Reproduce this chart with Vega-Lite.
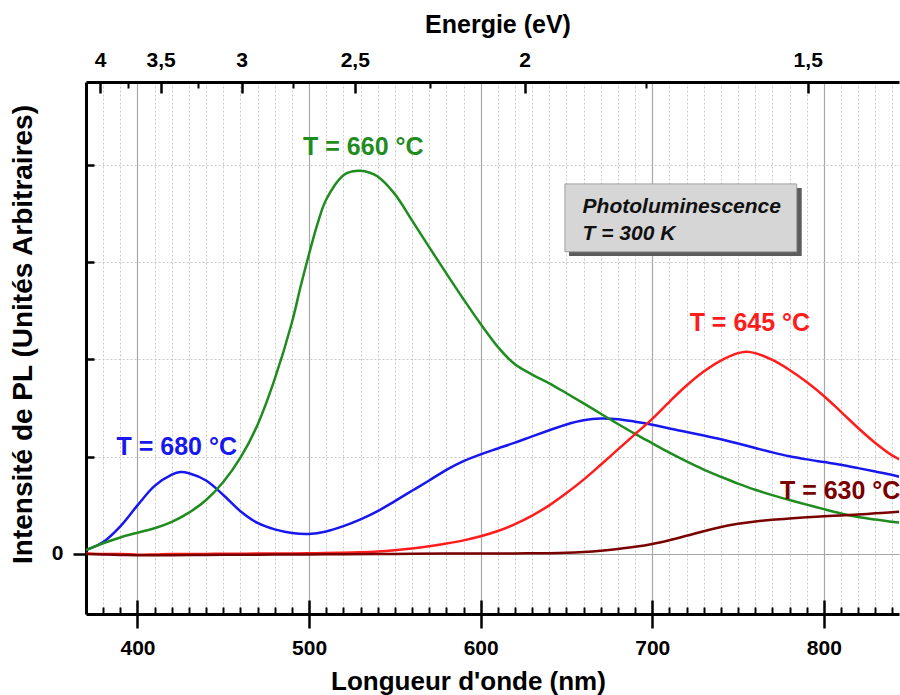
{
  "$schema": "https://vega.github.io/schema/vega-lite/v6.json",
  "width": 813,
  "height": 532,
  "autosize": {"type": "none"},
  "padding": {"left": 86, "top": 82, "right": 1, "bottom": 81},
  "background": "white",
  "config": {
    "view": {"stroke": null},
    "font": "Liberation Sans",
    "axis": {
      "labelFont": "Liberation Sans", "labelFontWeight": "bold", "labelFontSize": 21, "labelColor": "black",
      "titleFont": "Liberation Sans", "titleFontWeight": "bold", "titleFontSize": 25, "titleColor": "black",
      "tickColor": "black", "domainColor": "black", "labelFlush": false, "labelOverlap": false, "grid": false
    }
  },
  "datasets": {
    "pl": [
      {"lambda": 370, "I": 0.041, "serie": "680"}, {"lambda": 380, "I": 0.123, "serie": "680"}, {"lambda": 390, "I": 0.285, "serie": "680"},
      {"lambda": 400, "I": 0.5, "serie": "680"}, {"lambda": 410, "I": 0.7, "serie": "680"}, {"lambda": 420, "I": 0.815, "serie": "680"},
      {"lambda": 425, "I": 0.843, "serie": "680"}, {"lambda": 430, "I": 0.831, "serie": "680"}, {"lambda": 440, "I": 0.756, "serie": "680"},
      {"lambda": 450, "I": 0.607, "serie": "680"}, {"lambda": 460, "I": 0.44, "serie": "680"}, {"lambda": 470, "I": 0.319, "serie": "680"},
      {"lambda": 480, "I": 0.253, "serie": "680"}, {"lambda": 490, "I": 0.216, "serie": "680"}, {"lambda": 500, "I": 0.206, "serie": "680"},
      {"lambda": 510, "I": 0.232, "serie": "680"}, {"lambda": 520, "I": 0.286, "serie": "680"}, {"lambda": 530, "I": 0.356, "serie": "680"},
      {"lambda": 540, "I": 0.441, "serie": "680"}, {"lambda": 550, "I": 0.544, "serie": "680"}, {"lambda": 560, "I": 0.65, "serie": "680"},
      {"lambda": 570, "I": 0.756, "serie": "680"}, {"lambda": 580, "I": 0.865, "serie": "680"}, {"lambda": 590, "I": 0.955, "serie": "680"},
      {"lambda": 600, "I": 1.025, "serie": "680"}, {"lambda": 610, "I": 1.085, "serie": "680"}, {"lambda": 620, "I": 1.145, "serie": "680"},
      {"lambda": 630, "I": 1.21, "serie": "680"}, {"lambda": 640, "I": 1.272, "serie": "680"}, {"lambda": 650, "I": 1.332, "serie": "680"},
      {"lambda": 660, "I": 1.375, "serie": "680"}, {"lambda": 670, "I": 1.393, "serie": "680"}, {"lambda": 680, "I": 1.386, "serie": "680"},
      {"lambda": 690, "I": 1.36, "serie": "680"}, {"lambda": 700, "I": 1.329, "serie": "680"}, {"lambda": 710, "I": 1.29, "serie": "680"},
      {"lambda": 720, "I": 1.255, "serie": "680"}, {"lambda": 730, "I": 1.218, "serie": "680"}, {"lambda": 740, "I": 1.179, "serie": "680"},
      {"lambda": 750, "I": 1.136, "serie": "680"}, {"lambda": 760, "I": 1.09, "serie": "680"}, {"lambda": 770, "I": 1.045, "serie": "680"},
      {"lambda": 780, "I": 1.005, "serie": "680"}, {"lambda": 790, "I": 0.973, "serie": "680"}, {"lambda": 800, "I": 0.945, "serie": "680"},
      {"lambda": 810, "I": 0.917, "serie": "680"}, {"lambda": 820, "I": 0.883, "serie": "680"}, {"lambda": 830, "I": 0.848, "serie": "680"},
      {"lambda": 840, "I": 0.812, "serie": "680"}, {"lambda": 845, "I": 0.79, "serie": "680"},

      {"lambda": 370, "I": 0.041, "serie": "660"}, {"lambda": 380, "I": 0.11, "serie": "660"}, {"lambda": 390, "I": 0.17, "serie": "660"},
      {"lambda": 400, "I": 0.219, "serie": "660"}, {"lambda": 410, "I": 0.264, "serie": "660"}, {"lambda": 420, "I": 0.33, "serie": "660"},
      {"lambda": 430, "I": 0.425, "serie": "660"}, {"lambda": 440, "I": 0.555, "serie": "660"}, {"lambda": 450, "I": 0.74, "serie": "660"},
      {"lambda": 460, "I": 0.99, "serie": "660"}, {"lambda": 470, "I": 1.33, "serie": "660"}, {"lambda": 480, "I": 1.8, "serie": "660"},
      {"lambda": 490, "I": 2.38, "serie": "660"}, {"lambda": 495, "I": 2.745, "serie": "660"}, {"lambda": 500, "I": 3.085, "serie": "660"},
      {"lambda": 505, "I": 3.4, "serie": "660"}, {"lambda": 510, "I": 3.645, "serie": "660"}, {"lambda": 520, "I": 3.895, "serie": "660"},
      {"lambda": 525, "I": 3.933, "serie": "660"}, {"lambda": 530, "I": 3.941, "serie": "660"}, {"lambda": 535, "I": 3.923, "serie": "660"},
      {"lambda": 540, "I": 3.881, "serie": "660"}, {"lambda": 550, "I": 3.7, "serie": "660"}, {"lambda": 560, "I": 3.43, "serie": "660"},
      {"lambda": 570, "I": 3.155, "serie": "660"}, {"lambda": 580, "I": 2.885, "serie": "660"}, {"lambda": 590, "I": 2.62, "serie": "660"},
      {"lambda": 600, "I": 2.365, "serie": "660"}, {"lambda": 610, "I": 2.13, "serie": "660"}, {"lambda": 620, "I": 1.95, "serie": "660"},
      {"lambda": 630, "I": 1.845, "serie": "660"}, {"lambda": 640, "I": 1.755, "serie": "660"}, {"lambda": 650, "I": 1.653, "serie": "660"},
      {"lambda": 660, "I": 1.549, "serie": "660"}, {"lambda": 670, "I": 1.442, "serie": "660"}, {"lambda": 680, "I": 1.337, "serie": "660"},
      {"lambda": 690, "I": 1.235, "serie": "660"}, {"lambda": 700, "I": 1.138, "serie": "660"}, {"lambda": 710, "I": 1.042, "serie": "660"},
      {"lambda": 720, "I": 0.952, "serie": "660"}, {"lambda": 730, "I": 0.868, "serie": "660"}, {"lambda": 740, "I": 0.794, "serie": "660"},
      {"lambda": 750, "I": 0.724, "serie": "660"}, {"lambda": 760, "I": 0.66, "serie": "660"}, {"lambda": 770, "I": 0.605, "serie": "660"},
      {"lambda": 780, "I": 0.555, "serie": "660"}, {"lambda": 790, "I": 0.508, "serie": "660"}, {"lambda": 800, "I": 0.461, "serie": "660"},
      {"lambda": 810, "I": 0.417, "serie": "660"}, {"lambda": 820, "I": 0.381, "serie": "660"}, {"lambda": 830, "I": 0.354, "serie": "660"},
      {"lambda": 840, "I": 0.331, "serie": "660"}, {"lambda": 845, "I": 0.32, "serie": "660"},

      {"lambda": 370, "I": 0.005, "serie": "645"}, {"lambda": 380, "I": 0.0, "serie": "645"}, {"lambda": 390, "I": 0.0, "serie": "645"},
      {"lambda": 400, "I": -0.008, "serie": "645"}, {"lambda": 410, "I": -0.005, "serie": "645"}, {"lambda": 420, "I": 0.0, "serie": "645"},
      {"lambda": 430, "I": 0.0, "serie": "645"}, {"lambda": 440, "I": 0.0, "serie": "645"}, {"lambda": 450, "I": 0.003, "serie": "645"},
      {"lambda": 460, "I": 0.003, "serie": "645"}, {"lambda": 470, "I": 0.005, "serie": "645"}, {"lambda": 480, "I": 0.005, "serie": "645"},
      {"lambda": 490, "I": 0.005, "serie": "645"}, {"lambda": 500, "I": 0.007, "serie": "645"}, {"lambda": 510, "I": 0.01, "serie": "645"},
      {"lambda": 520, "I": 0.013, "serie": "645"}, {"lambda": 530, "I": 0.018, "serie": "645"}, {"lambda": 540, "I": 0.026, "serie": "645"},
      {"lambda": 550, "I": 0.039, "serie": "645"}, {"lambda": 560, "I": 0.056, "serie": "645"}, {"lambda": 570, "I": 0.079, "serie": "645"},
      {"lambda": 580, "I": 0.107, "serie": "645"}, {"lambda": 590, "I": 0.14, "serie": "645"}, {"lambda": 600, "I": 0.182, "serie": "645"},
      {"lambda": 610, "I": 0.236, "serie": "645"}, {"lambda": 620, "I": 0.307, "serie": "645"}, {"lambda": 630, "I": 0.395, "serie": "645"},
      {"lambda": 640, "I": 0.5, "serie": "645"}, {"lambda": 650, "I": 0.626, "serie": "645"}, {"lambda": 660, "I": 0.765, "serie": "645"},
      {"lambda": 670, "I": 0.918, "serie": "645"}, {"lambda": 680, "I": 1.075, "serie": "645"}, {"lambda": 690, "I": 1.232, "serie": "645"},
      {"lambda": 700, "I": 1.39, "serie": "645"}, {"lambda": 710, "I": 1.565, "serie": "645"}, {"lambda": 720, "I": 1.732, "serie": "645"},
      {"lambda": 730, "I": 1.876, "serie": "645"}, {"lambda": 740, "I": 1.989, "serie": "645"}, {"lambda": 750, "I": 2.065, "serie": "645"},
      {"lambda": 755, "I": 2.08, "serie": "645"}, {"lambda": 760, "I": 2.065, "serie": "645"}, {"lambda": 770, "I": 1.995, "serie": "645"},
      {"lambda": 780, "I": 1.892, "serie": "645"}, {"lambda": 790, "I": 1.768, "serie": "645"}, {"lambda": 800, "I": 1.625, "serie": "645"},
      {"lambda": 810, "I": 1.462, "serie": "645"}, {"lambda": 820, "I": 1.295, "serie": "645"}, {"lambda": 830, "I": 1.141, "serie": "645"},
      {"lambda": 840, "I": 1.011, "serie": "645"}, {"lambda": 845, "I": 0.965, "serie": "645"},

      {"lambda": 370, "I": 0.0, "serie": "630"}, {"lambda": 380, "I": -0.005, "serie": "630"}, {"lambda": 390, "I": -0.01, "serie": "630"},
      {"lambda": 400, "I": -0.012, "serie": "630"}, {"lambda": 420, "I": -0.012, "serie": "630"}, {"lambda": 440, "I": -0.01, "serie": "630"},
      {"lambda": 460, "I": -0.008, "serie": "630"}, {"lambda": 480, "I": -0.006, "serie": "630"}, {"lambda": 500, "I": -0.004, "serie": "630"},
      {"lambda": 520, "I": -0.002, "serie": "630"}, {"lambda": 540, "I": 0.0, "serie": "630"}, {"lambda": 560, "I": 0.002, "serie": "630"},
      {"lambda": 580, "I": 0.004, "serie": "630"}, {"lambda": 600, "I": 0.005, "serie": "630"}, {"lambda": 620, "I": 0.006, "serie": "630"},
      {"lambda": 640, "I": 0.008, "serie": "630"}, {"lambda": 650, "I": 0.012, "serie": "630"}, {"lambda": 660, "I": 0.021, "serie": "630"},
      {"lambda": 670, "I": 0.034, "serie": "630"}, {"lambda": 680, "I": 0.052, "serie": "630"}, {"lambda": 690, "I": 0.074, "serie": "630"},
      {"lambda": 700, "I": 0.103, "serie": "630"}, {"lambda": 710, "I": 0.142, "serie": "630"}, {"lambda": 720, "I": 0.187, "serie": "630"},
      {"lambda": 730, "I": 0.234, "serie": "630"}, {"lambda": 740, "I": 0.277, "serie": "630"}, {"lambda": 750, "I": 0.31, "serie": "630"},
      {"lambda": 760, "I": 0.334, "serie": "630"}, {"lambda": 770, "I": 0.352, "serie": "630"}, {"lambda": 780, "I": 0.366, "serie": "630"},
      {"lambda": 790, "I": 0.378, "serie": "630"}, {"lambda": 800, "I": 0.387, "serie": "630"}, {"lambda": 810, "I": 0.396, "serie": "630"},
      {"lambda": 820, "I": 0.406, "serie": "630"}, {"lambda": 830, "I": 0.418, "serie": "630"}, {"lambda": 840, "I": 0.43, "serie": "630"},
      {"lambda": 845, "I": 0.436, "serie": "630"}
    ],
    "labels": [
      {"lambda": 531.6, "I": 4.18, "serie": "660", "text": "T = 660 °C"},
      {"lambda": 422.9, "I": 1.1, "serie": "680", "text": "T = 680 °C"},
      {"lambda": 756.9, "I": 2.38, "serie": "645", "text": "T = 645 °C"},
      {"lambda": 809.5, "I": 0.648, "serie": "630", "text": "T = 630 °C"}
    ],
    "shadow": [{"x1": 651.5, "x2": 787.1, "y1": 3.064, "y2": 3.763}],
    "face": [{"x1": 649.1, "x2": 784.2, "y1": 3.108, "y2": 3.805}],
    "boxtext": [
      {"lambda": 659.4, "I": 3.57, "text": "Photoluminescence"},
      {"lambda": 659.4, "I": 3.29, "text": "T = 300 K"}
    ],
    "energie": [
      {"E": 4, "invE": 0.25}, {"E": 3.5, "invE": 0.2857142857}, {"E": 3, "invE": 0.3333333333},
      {"E": 2.5, "invE": 0.4}, {"E": 2, "invE": 0.5}, {"E": 1.5, "invE": 0.6666666667}
    ],
    "energieMinor": [
      {"E": 3.75, "invE": 0.2666666667}, {"E": 3.25, "invE": 0.3076923077}, {"E": 2.75, "invE": 0.3636363636},
      {"E": 2.25, "invE": 0.4444444444}, {"E": 1.75, "invE": 0.5714285714}
    ]
  },
  "layer": [
    {
      "data": {"name": "pl"},
      "mark": {"type": "line", "strokeWidth": 2.5, "clip": true, "interpolate": "catmull-rom"},
      "encoding": {
        "x": {"field": "lambda", "type": "quantitative",
          "scale": {"domain": [370, 843.8], "nice": false, "zero": false},
          "axis": {"orient": "bottom", "values": [380, 390, 410, 420, 430, 440, 450, 460, 470, 480, 490, 510, 520, 530, 540, 550, 560, 570, 580, 590, 610, 620, 630, 640, 650, 660, 670, 680, 690, 710, 720, 730, 740, 750, 760, 770, 780, 790, 810, 820, 830, 840],
            "labels": false, "domain": false, "tickSize": -7, "tickWidth": 2, "grid": true, "gridColor": "#c8c8c8", "gridDash": [2, 2], "gridWidth": 1, "title": null}},
        "y": {"field": "I", "type": "quantitative",
          "scale": {"domain": [-0.617, 4.853], "nice": false, "zero": false},
          "axis": {"orient": "left", "values": [1, 2, 3, 4], "labels": false, "domain": false, "tickSize": -8, "tickWidth": 2.5, "grid": true, "gridColor": "#c8c8c8", "gridDash": [2, 2], "gridWidth": 1, "title": null}},
        "color": {"field": "serie", "type": "nominal",
          "scale": {"domain": ["630", "645", "680", "660"], "range": ["#7a0000", "#ff1c1c", "#1717ee", "#1f8c1f"]}, "legend": null}
      }
    },
    {
      "data": {"name": "labels"},
      "mark": {"type": "text", "fontSize": 25, "fontWeight": "bold", "font": "Liberation Sans", "align": "center", "baseline": "middle"},
      "encoding": {
        "x": {"field": "lambda", "type": "quantitative",
          "scale": {"domain": [370, 843.8], "nice": false, "zero": false},
          "axis": {"orient": "bottom", "values": [400, 500, 600, 700, 800], "labels": false, "domain": false, "tickSize": -14, "tickWidth": 2.5, "grid": true, "gridColor": "#a8a8a8", "gridWidth": 1.2, "title": null}},
        "y": {"field": "I", "type": "quantitative",
          "scale": {"domain": [-0.617, 4.853], "nice": false, "zero": false},
          "axis": {"orient": "left", "values": [0], "labels": true, "labelPadding": 10, "domain": true, "domainWidth": 3, "tickSize": 13, "tickWidth": 2.5, "grid": true, "gridColor": "#a8a8a8", "gridWidth": 1.2,
            "title": "Intensité de PL (Unités Arbitraires)", "titleFontSize": 28, "titleX": -62.5, "titleY": 252, "titleAngle": 270, "titleBaseline": "middle", "titleAlign": "center"}},
        "text": {"field": "text"},
        "color": {"field": "serie", "type": "nominal", "legend": null}
      }
    },
    {
      "data": {"name": "shadow"},
      "mark": {"type": "rect", "color": "#5c5c5c"},
      "encoding": {
        "x": {"field": "x1", "type": "quantitative",
          "scale": {"domain": [370, 843.8], "nice": false, "zero": false},
          "axis": {"orient": "bottom", "values": [400, 500, 600, 700, 800], "labels": true, "labelPadding": 9, "domain": true, "domainWidth": 3, "tickSize": 14, "tickWidth": 2.5, "grid": false,
            "title": "Longueur d'onde (nm)", "titleFontSize": 26, "titleX": 382, "titleY": 75, "titleBaseline": "alphabetic", "titleAlign": "center"}},
        "x2": {"field": "x2"},
        "y": {"field": "y1", "type": "quantitative", "scale": {"domain": [-0.617, 4.853], "nice": false, "zero": false}, "axis": null},
        "y2": {"field": "y2"}
      }
    },
    {
      "data": {"name": "face"},
      "mark": {"type": "rect", "color": "#d6d6d6", "stroke": "#a0a0a0", "strokeWidth": 1},
      "encoding": {
        "x": {"field": "x1", "type": "quantitative", "scale": {"domain": [370, 843.8], "nice": false, "zero": false}, "axis": null},
        "x2": {"field": "x2"},
        "y": {"field": "y1", "type": "quantitative", "scale": {"domain": [-0.617, 4.853], "nice": false, "zero": false}, "axis": null},
        "y2": {"field": "y2"}
      }
    },
    {
      "data": {"name": "boxtext"},
      "mark": {"type": "text", "fontSize": 21, "fontWeight": "bold", "fontStyle": "italic", "font": "Liberation Sans", "align": "left", "baseline": "middle", "color": "#111111"},
      "encoding": {
        "x": {"field": "lambda", "type": "quantitative", "scale": {"domain": [370, 843.8], "nice": false, "zero": false}, "axis": null},
        "y": {"field": "I", "type": "quantitative", "scale": {"domain": [-0.617, 4.853], "nice": false, "zero": false}, "axis": null},
        "text": {"field": "text"}
      }
    },
    {
      "data": {"name": "energie"},
      "mark": {"type": "rule", "strokeOpacity": 0},
      "encoding": {
        "x": {"field": "invE", "type": "quantitative",
          "scale": {"domain": [0.241757, 0.720415], "nice": false, "zero": false},
          "axis": {"orient": "top", "values": [0.25, 0.2857142857, 0.3333333333, 0.4, 0.5, 0.6666666667],
            "labelExpr": "replace(format(1/datum.value, '.2~f'), '.', ',')",
            "labels": true, "labelPadding": 23, "domain": true, "domainWidth": 3, "tickSize": -11, "tickWidth": 2.5, "grid": false,
            "title": "Energie (eV)", "titleX": 411.5, "titleY": -49.5, "titleBaseline": "alphabetic", "titleAlign": "center"}}
      }
    },
    {
      "data": {"name": "energieMinor"},
      "mark": {"type": "rule", "strokeOpacity": 0},
      "encoding": {
        "x": {"field": "invE", "type": "quantitative",
          "scale": {"domain": [0.241757, 0.720415], "nice": false, "zero": false},
          "axis": {"orient": "top", "values": [0.2666666667, 0.3076923077, 0.3636363636, 0.4444444444, 0.5714285714],
            "labels": false, "domain": false, "tickSize": -6, "tickWidth": 2, "grid": false, "title": null}}
      }
    }
  ],
  "resolve": {"scale": {"x": "independent", "y": "independent"}, "axis": {"x": "independent", "y": "independent"}}
}
